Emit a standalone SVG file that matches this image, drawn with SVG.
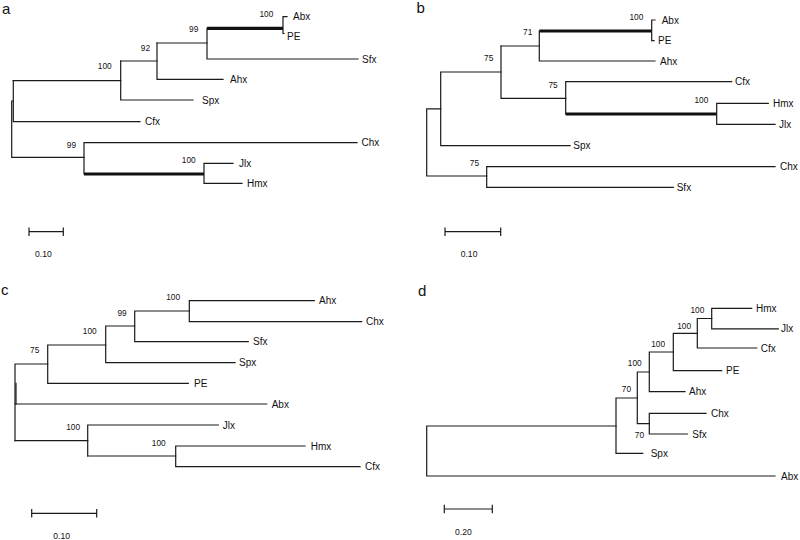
<svg xmlns="http://www.w3.org/2000/svg" width="800" height="540" viewBox="0 0 800 540">
<style>
  .br{fill:none;stroke:#1a1a1a;stroke-width:1.2;stroke-linecap:square}
  .thick{fill:none;stroke:#111;stroke-width:3.2}
  .leaf{font-family:"Liberation Sans",Arial,sans-serif;font-size:10px;fill:#111}
  .bs{font-family:"Liberation Sans",Arial,sans-serif;font-size:8.3px;fill:#111;text-anchor:end}
  .sc{font-family:"Liberation Sans",Arial,sans-serif;font-size:8.6px;fill:#111}
  .pl{font-family:"Liberation Sans",Arial,sans-serif;font-size:15px;fill:#111}
</style>
<rect width="800" height="540" fill="#fff"/>

<!-- Panel a -->
<g id="panel-a">
  <text class="pl" x="2" y="13.5">a</text>
  <g id="a-connectors">
    <path class="thick" d="M207,28.3 H283"/>
    <path class="br" d="M283,16.7 V33.5 M283,16.7 H287 M283,33.5 H284"/>
    <path class="br" d="M207,28.3 V59 H358"/>
    <path class="br" d="M157,43 H207"/>
    <path class="br" d="M157,43 V79.3 H223"/>
    <path class="br" d="M120.7,61 H157"/>
    <path class="br" d="M120.7,61 V100 H193"/>
    <path class="br" d="M13.3,80.7 H120.7"/>
    <path class="br" d="M13.3,80.7 V121.7 H140"/>
    <path class="br" d="M11.7,101 H13.3 M11.7,101 V157.3 H84"/>
    <path class="br" d="M84,142.7 V174 M84,142.7 H357"/>
    <path class="thick" d="M84,174 H204"/>
    <path class="br" d="M204,163.3 V183.3 M204,163.3 H233 M204,183.3 H242"/>
    <path class="br" d="M29,231.7 H63.3 M29,228 V235.4 M63.3,228 V235.4"/>
  </g>
  <g id="a-Abx"><text class="leaf" x="293" y="20.3">Abx</text></g>
  <g id="a-PE"><text class="leaf" x="287" y="40.3">PE</text></g>
  <g id="a-Sfx"><text class="leaf" x="362" y="62.6">Sfx</text></g>
  <g id="a-Ahx"><text class="leaf" x="230" y="82.9">Ahx</text></g>
  <g id="a-Spx"><text class="leaf" x="202" y="103.6">Spx</text></g>
  <g id="a-Cfx"><text class="leaf" x="145" y="125.3">Cfx</text></g>
  <g id="a-Chx"><text class="leaf" x="361.5" y="146.3">Chx</text></g>
  <g id="a-Jlx"><text class="leaf" x="239" y="167">Jlx</text></g>
  <g id="a-Hmx"><text class="leaf" x="247" y="187">Hmx</text></g>
  <g id="a-boot">
    <text class="bs" x="273.3" y="17">100</text>
    <text class="bs" x="198.3" y="32.3">99</text>
    <text class="bs" x="150" y="50.7">92</text>
    <text class="bs" x="111.7" y="69">100</text>
    <text class="bs" x="76" y="148">99</text>
    <text class="bs" x="195.7" y="163">100</text>
  </g>
  <g id="a-scale"><text class="sc" x="35" y="257.3">0.10</text></g>
</g>

<!-- Panel b -->
<g id="panel-b">
  <text class="pl" x="416.5" y="13">b</text>
  <g id="b-connectors">
    <path class="thick" d="M539.3,31 H651.7"/>
    <path class="br" d="M651.7,20 V40.7 M651.7,20 H655 M651.7,40.7 H654"/>
    <path class="br" d="M539.3,31 V61 H655"/>
    <path class="br" d="M501,46 H539.3"/>
    <path class="br" d="M501,46 V98.3 H565.7"/>
    <path class="br" d="M565.7,81.7 V114 M565.7,81.7 H731.7"/>
    <path class="thick" d="M565.7,114 H716.7"/>
    <path class="br" d="M716.7,103.3 V124.3 M716.7,103.3 H768.3 M716.7,124.3 H775"/>
    <path class="br" d="M440.7,72 H501 M440.7,72 V145.7 H570"/>
    <path class="br" d="M426.7,108.8 H440.7 M426.7,108.8 V176 H486.7"/>
    <path class="br" d="M486.7,166.7 V187.3 M486.7,166.7 H775 M486.7,187.3 H673.3"/>
    <path class="br" d="M445,231.7 H500.7 M445,228 V235.4 M500.7,228 V235.4"/>
  </g>
  <g id="b-Abx"><text class="leaf" x="661.7" y="23.6">Abx</text></g>
  <g id="b-PE"><text class="leaf" x="658" y="44">PE</text></g>
  <g id="b-Ahx"><text class="leaf" x="660" y="64.6">Ahx</text></g>
  <g id="b-Cfx"><text class="leaf" x="735" y="85.3">Cfx</text></g>
  <g id="b-Hmx"><text class="leaf" x="773" y="107">Hmx</text></g>
  <g id="b-Jlx"><text class="leaf" x="779" y="128">Jlx</text></g>
  <g id="b-Spx"><text class="leaf" x="573.3" y="149.3">Spx</text></g>
  <g id="b-Chx"><text class="leaf" x="780" y="170.3">Chx</text></g>
  <g id="b-Sfx"><text class="leaf" x="676.7" y="191">Sfx</text></g>
  <g id="b-boot">
    <text class="bs" x="643.3" y="19.7">100</text>
    <text class="bs" x="532.3" y="35.3">71</text>
    <text class="bs" x="493.3" y="60.7">75</text>
    <text class="bs" x="557.7" y="88">75</text>
    <text class="bs" x="708.3" y="103">100</text>
    <text class="bs" x="479" y="166.3">75</text>
  </g>
  <g id="b-scale"><text class="sc" x="460.7" y="257.3">0.10</text></g>
</g>

<!-- Panel c -->
<g id="panel-c">
  <text class="pl" x="1" y="295">c</text>
  <g id="c-connectors">
    <path class="br" d="M189.3,300.7 V321.7 M189.3,300.7 H314.3 M189.3,321.7 H361.7"/>
    <path class="br" d="M134.7,311 H189.3 M134.7,311 V341.7 H248.3"/>
    <path class="br" d="M105.7,326 H134.7 M105.7,326 V362.7 H235"/>
    <path class="br" d="M47.7,345 H105.7 M47.7,345 V383.3 H188.3"/>
    <path class="br" d="M15,364 H47.7 M15,364 V440.7"/>
    <path class="br" d="M16,383.3 V404"/>
    <path class="br" d="M15,404 H266.7"/>
    <path class="br" d="M15,440.7 H87.7"/>
    <path class="br" d="M87.7,425 V456 M87.7,425 H218.3"/>
    <path class="br" d="M87.7,456 H175.7"/>
    <path class="br" d="M175.7,446 V466.7 M175.7,446 H305 M175.7,466.7 H360"/>
    <path class="br" d="M31.7,513.3 H96.7 M31.7,509.6 V517 M96.7,509.6 V517"/>
  </g>
  <g id="c-Ahx"><text class="leaf" x="319" y="304.3">Ahx</text></g>
  <g id="c-Chx"><text class="leaf" x="366" y="325.3">Chx</text></g>
  <g id="c-Sfx"><text class="leaf" x="253" y="345.3">Sfx</text></g>
  <g id="c-Spx"><text class="leaf" x="239" y="366.3">Spx</text></g>
  <g id="c-PE"><text class="leaf" x="194" y="387">PE</text></g>
  <g id="c-Abx"><text class="leaf" x="271.7" y="407.6">Abx</text></g>
  <g id="c-Jlx"><text class="leaf" x="222.7" y="428.6">Jlx</text></g>
  <g id="c-Hmx"><text class="leaf" x="310.7" y="449.6">Hmx</text></g>
  <g id="c-Cfx"><text class="leaf" x="365" y="470.3">Cfx</text></g>
  <g id="c-boot">
    <text class="bs" x="180" y="300.3">100</text>
    <text class="bs" x="126.7" y="315.7">99</text>
    <text class="bs" x="96.7" y="334">100</text>
    <text class="bs" x="39.3" y="353">75</text>
    <text class="bs" x="80" y="429.7">100</text>
    <text class="bs" x="165.7" y="446.3">100</text>
  </g>
  <g id="c-scale"><text class="sc" x="53.3" y="539">0.10</text></g>
</g>

<!-- Panel d -->
<g id="panel-d">
  <text class="pl" x="418" y="296">d</text>
  <g id="d-connectors">
    <path class="br" d="M711.7,308.3 V328.8 M711.7,308.3 H751.7 M711.7,328.8 H778.3"/>
    <path class="br" d="M697.3,318.5 H711.7 M697.3,318.5 V348 H756.7"/>
    <path class="br" d="M673.3,333.3 H697.3 M673.3,333.3 V370.7 H721.7"/>
    <path class="br" d="M649.3,352 H673.3 M649.3,352 V391.7 H685"/>
    <path class="br" d="M637.3,372 H649.3 M637.3,372 V423.7 H649.3"/>
    <path class="br" d="M649.3,413.3 V434 M649.3,413.3 H706 M649.3,434 H687.3"/>
    <path class="br" d="M616,398 H637.3 M616,398 V453.3 H642.7"/>
    <path class="br" d="M426.7,426 H616 M426.7,426 V476 H775"/>
    <path class="br" d="M444.3,509 H492.3 M444.3,505.3 V512.7 M492.3,505.3 V512.7"/>
  </g>
  <g id="d-Hmx"><text class="leaf" x="756" y="312">Hmx</text></g>
  <g id="d-Jlx"><text class="leaf" x="781" y="332.4">Jlx</text></g>
  <g id="d-Cfx"><text class="leaf" x="760.7" y="351.6">Cfx</text></g>
  <g id="d-PE"><text class="leaf" x="726" y="374.3">PE</text></g>
  <g id="d-Ahx"><text class="leaf" x="689" y="395.3">Ahx</text></g>
  <g id="d-Chx"><text class="leaf" x="711" y="417">Chx</text></g>
  <g id="d-Sfx"><text class="leaf" x="692.3" y="437.6">Sfx</text></g>
  <g id="d-Spx"><text class="leaf" x="650.7" y="457">Spx</text></g>
  <g id="d-Abx"><text class="leaf" x="781" y="479.6">Abx</text></g>
  <g id="d-boot">
    <text class="bs" x="704.3" y="313">100</text>
    <text class="bs" x="691" y="329">100</text>
    <text class="bs" x="665" y="347.3">100</text>
    <text class="bs" x="641.7" y="366.3">100</text>
    <text class="bs" x="631" y="392">70</text>
    <text class="bs" x="644" y="438">70</text>
  </g>
  <g id="d-scale"><text class="sc" x="455" y="534.7">0.20</text></g>
</g>
</svg>
